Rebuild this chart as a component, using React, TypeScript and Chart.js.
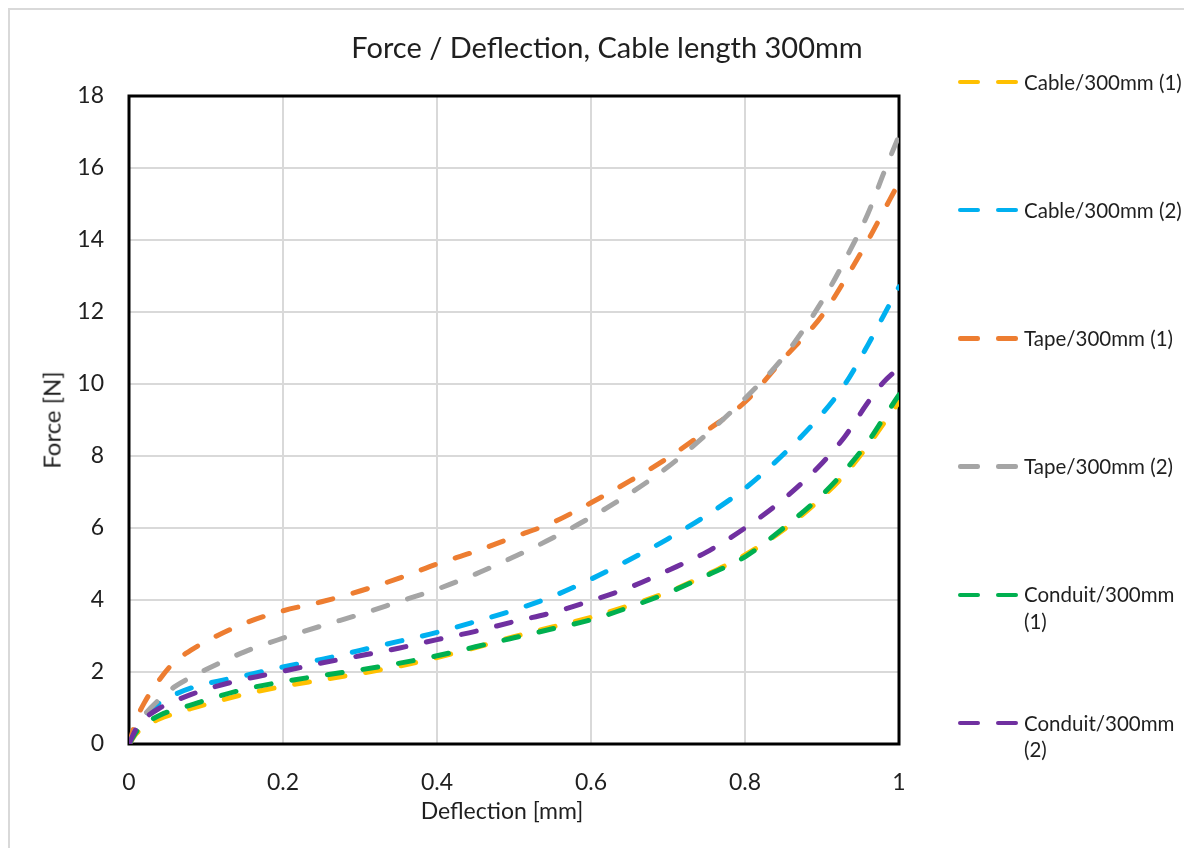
import React, { useEffect, useRef } from "react";
import { Chart, registerables } from "chart.js";

Chart.register(...registerables);

// ---- Data ----
const deflection = [0, 0.01, 0.02, 0.04, 0.06, 0.08, 0.1, 0.15, 0.2, 0.25, 0.3, 0.35, 0.4, 0.45, 0.5, 0.55, 0.6, 0.65, 0.7, 0.75, 0.8, 0.85, 0.9, 0.93, 0.96, 0.98, 1.0];

const cable1 = [0, 0.3, 0.48, 0.7, 0.85, 0.98, 1.1, 1.38, 1.6, 1.78, 1.96, 2.16, 2.4, 2.68, 2.98, 3.25, 3.52, 3.85, 4.22, 4.7, 5.25, 5.95, 6.85, 7.5, 8.3, 8.9, 9.5];
const cable2 = [0, 0.4, 0.75, 1.15, 1.38, 1.55, 1.67, 1.9, 2.14, 2.35, 2.6, 2.85, 3.1, 3.4, 3.72, 4.1, 4.58, 5.12, 5.7, 6.35, 7.1, 8.05, 9.17, 10.0, 11.1, 11.9, 12.7];
const tape1 = [0, 0.7, 1.15, 1.8, 2.3, 2.6, 2.85, 3.35, 3.7, 3.95, 4.25, 4.6, 5.0, 5.35, 5.75, 6.15, 6.7, 7.3, 7.95, 8.7, 9.5, 10.7, 11.9, 12.9, 14.0, 14.8, 15.6];
const tape2 = [0, 0.45, 0.8, 1.25, 1.6, 1.85, 2.07, 2.56, 2.94, 3.28, 3.6, 3.95, 4.3, 4.72, 5.2, 5.72, 6.3, 6.95, 7.7, 8.6, 9.6, 10.75, 12.3, 13.45, 14.75, 15.85, 16.9];
const conduit1 = [0, 0.35, 0.55, 0.8, 0.96, 1.08, 1.22, 1.52, 1.73, 1.9, 2.06, 2.24, 2.45, 2.7, 2.95, 3.2, 3.45, 3.8, 4.2, 4.68, 5.2, 6.0, 6.92, 7.6, 8.4, 9.05, 9.7];
const conduit2 = [0, 0.45, 0.7, 1.0, 1.2, 1.37, 1.52, 1.8, 2.02, 2.25, 2.45, 2.66, 2.9, 3.13, 3.4, 3.65, 3.98, 4.35, 4.82, 5.33, 6.0, 6.8, 7.8, 8.55, 9.5, 10.05, 10.45];

const seriesNames = ["Cable/300mm (1)", "Cable/300mm (2)", "Tape/300mm (1)", "Tape/300mm (2)", "Conduit/300mm (1)", "Conduit/300mm (2)"];
const seriesColors = ["#FFC000", "#00B0F0", "#ED7D31", "#A5A5A5", "#00B050", "#7030A0"];
const seriesValues = [cable1, cable2, tape1, tape2, conduit1, conduit2];

const xTicks = [0, 0.2, 0.4, 0.6, 0.8, 1];
const xTickLabels = ["0", "0.2", "0.4", "0.6", "0.8", "1"];
const yTicks = [0, 2, 4, 6, 8, 10, 12, 14, 16, 18];
const yTickLabels = ["0", "2", "4", "6", "8", "10", "12", "14", "16", "18"];

const chartTitle = "Force / Deflection, Cable length 300mm";
const xTitle = "Deflection [mm]";
const yTitle = "Force [N]";

const FONT = "Lato, sans-serif";
const TEXT = "#1f1f1f";

const plotBorder = {
  id: "plotBorder",
  beforeDatasetsDraw(chart: any) {
    const { ctx, chartArea } = chart;
    const { left, top, right, bottom } = chartArea;
    ctx.save();
    ctx.strokeStyle = "#000000";
    ctx.lineWidth = 3;
    ctx.strokeRect(left, top, right - left, bottom - top);
    ctx.restore();
  },
};

function wrapLabel(s: string) {
  if (s.length > 15) {
    const i = s.lastIndexOf(" ");
    return [s.slice(0, i), s.slice(i + 1)];
  }
  return [s];
}

export default function App() {
  const canvasRef = useRef<HTMLCanvasElement | null>(null);

  useEffect(() => {
    if (!canvasRef.current) return;
    const datasets = seriesValues.map((vals, i) => ({
      label: seriesNames[i],
      data: deflection.map((x, j) => ({ x, y: vals[j] })),
      borderColor: seriesColors[i],
      backgroundColor: seriesColors[i],
      borderWidth: 5,
      borderDash: [15, 21],
      borderCapStyle: "round" as const,
      borderJoinStyle: "round" as const,
      pointRadius: 0,
      fill: false,
      cubicInterpolationMode: "monotone" as const,
      order: seriesValues.length - i,
    }));

    const chart = new Chart(canvasRef.current, {
      type: "line",
      data: { datasets },
      plugins: [plotBorder],
      options: {
        animation: false,
        responsive: true,
        maintainAspectRatio: false,
        layout: { padding: { top: 88, right: 285, left: 0, bottom: 0 } },
        plugins: {
          legend: { display: false },
          title: { display: false },
          tooltip: { enabled: false },
        },
        scales: {
          x: {
            type: "linear",
            min: 0,
            max: 1,
            afterBuildTicks: (s: any) => {
              s.ticks = xTicks.map((v) => ({ value: v }));
            },
            afterFit: (s: any) => {
              s.height = 104;
            },
            ticks: {
              padding: 25,
              color: TEXT,
              font: { family: FONT, size: 23 },
              maxRotation: 0,
              autoSkip: false,
              callback: (v: any) => {
                const i = xTicks.findIndex((t) => Math.abs(t - Number(v)) < 1e-9);
                return i >= 0 ? xTickLabels[i] : "";
              },
            },
            grid: { color: "#d9d9d9", lineWidth: 2, drawTicks: false },
            border: { display: false },
          },
          y: {
            type: "linear",
            min: 0,
            max: 18,
            afterBuildTicks: (s: any) => {
              s.ticks = yTicks.map((v) => ({ value: v }));
            },
            afterFit: (s: any) => {
              s.width = 121;
            },
            ticks: {
              padding: 25,
              color: TEXT,
              font: { family: FONT, size: 23 },
              autoSkip: false,
              callback: (v: any) => {
                const i = yTicks.findIndex((t) => Math.abs(t - Number(v)) < 1e-9);
                return i >= 0 ? yTickLabels[i] : "";
              },
            },
            grid: { color: "#d9d9d9", lineWidth: 2, drawTicks: false },
            border: { display: false },
          },
        },
      },
    });
    return () => chart.destroy();
  }, []);

  const legendTop = 74;
  const legendStep = 128.2;

  return (
    <div style={{ position: "relative", width: 1176, height: 840, fontFamily: FONT, color: TEXT }}>
      <div
        style={{
          position: "absolute",
          left: 0,
          top: 0,
          right: 0,
          bottom: 0,
          borderLeft: "2px solid #d9d9d9",
          borderTop: "2px solid #d9d9d9",
          boxSizing: "border-box",
          pointerEvents: "none",
        }}
      />
      <div style={{ position: "absolute", left: 0, top: 0, width: 1176, height: 840 }}>
        <canvas ref={canvasRef} />
      </div>
      <div
        style={{
          position: "absolute",
          left: 599,
          top: 39,
          transform: "translate(-50%, -50%)",
          fontSize: 29,
          lineHeight: 1.2,
          whiteSpace: "nowrap",
        }}
      >
        {chartTitle}
      </div>
      <div
        style={{
          position: "absolute",
          left: 44,
          top: 412,
          transform: "translate(-50%, -50%) rotate(-90deg)",
          fontSize: 24,
          lineHeight: 1.2,
          whiteSpace: "nowrap",
        }}
      >
        {yTitle}
      </div>
      <div
        style={{
          position: "absolute",
          left: 494,
          top: 803,
          transform: "translate(-50%, -50%)",
          fontSize: 23,
          lineHeight: 1.2,
          whiteSpace: "nowrap",
        }}
      >
        {xTitle}
      </div>
      {seriesNames.map((name, i) => {
        const cy = legendTop + i * legendStep;
        const lines = wrapLabel(name);
        return (
          <div key={name}>
            <div
              style={{
                position: "absolute",
                left: 950,
                top: cy - 2.25,
                width: 22,
                height: 4.5,
                borderRadius: 2.25,
                background: seriesColors[i],
              }}
            />
            <div
              style={{
                position: "absolute",
                left: 988,
                top: cy - 2.25,
                width: 22,
                height: 4.5,
                borderRadius: 2.25,
                background: seriesColors[i],
              }}
            />
            <div
              style={{
                position: "absolute",
                left: 1016,
                top: cy - 13.35,
                fontSize: 20.5,
                lineHeight: "26.7px",
                whiteSpace: "nowrap",
              }}
            >
              {lines.map((l, k) => (
                <div key={k}>{l}</div>
              ))}
            </div>
          </div>
        );
      })}
    </div>
  );
}
